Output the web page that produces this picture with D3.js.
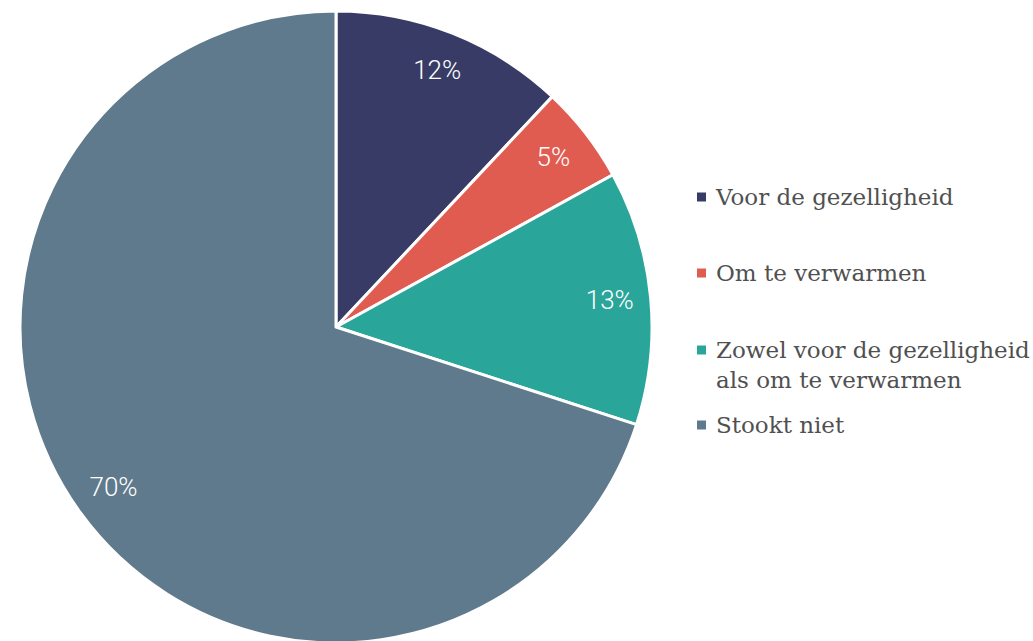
<!DOCTYPE html>
<html><head><meta charset="utf-8">
<script src="https://cdn.jsdelivr.net/npm/d3@7"></script>
<style>html,body{margin:0;padding:0;background:#fff;overflow:hidden}</style>
</head><body>
<svg id="chart" width="1033" height="641"></svg>
<script>
const categories = ["Voor de gezelligheid", "Om te verwarmen", "Zowel voor de gezelligheid als om te verwarmen", "Stookt niet"];
const legendLines = [["Voor de gezelligheid"], ["Om te verwarmen"], ["Zowel voor de gezelligheid", "als om te verwarmen"], ["Stookt niet"]];
const values = [12, 5, 13, 70];
const colors = ["#383b66", "#e05c50", "#2aa59a", "#5f7a8c"];

const svg = d3.select("#chart");
const cx = 336, cy = 327, R = 316, labelR = 275;
const pie = d3.pie().sort(null).value(d => d);
const arcs = pie(values);
const arc = d3.arc().innerRadius(0).outerRadius(R);
const labelArc = d3.arc().innerRadius(labelR).outerRadius(labelR);
const g = svg.append("g").attr("transform", `translate(${cx},${cy})`);
g.selectAll("path").data(arcs).join("path")
  .attr("d", arc).attr("fill", (d, i) => colors[i])
  .attr("stroke", "#fff").attr("stroke-width", 3).attr("stroke-linejoin", "round");
g.selectAll("text").data(arcs).join("text")
  .attr("transform", d => `translate(${labelArc.centroid(d)})`)
  .attr("text-anchor", "middle").attr("dy", "0.3em")
  .attr("fill", "#fff").attr("font-family", "Roboto").attr("font-weight", 300)
  .attr("font-size", 26)
  .text(d => d.data + "%");

const legendY = [197, 273, 350, 425];
const lg = svg.append("g");
legendLines.forEach((lines, i) => {
  lg.append("rect").attr("x", 697).attr("y", legendY[i] - 4.5).attr("width", 9).attr("height", 9).attr("fill", colors[i]);
  const t = lg.append("text").attr("x", 716).attr("y", legendY[i])
    .attr("font-family", "DejaVu Serif").attr("font-size", 23).attr("fill", "#505050");
  lines.forEach((l, j) => t.append("tspan").attr("x", 716).attr("dy", j === 0 ? "0.36em" : "1.3em").text(l));
});
</script>
</body></html>
